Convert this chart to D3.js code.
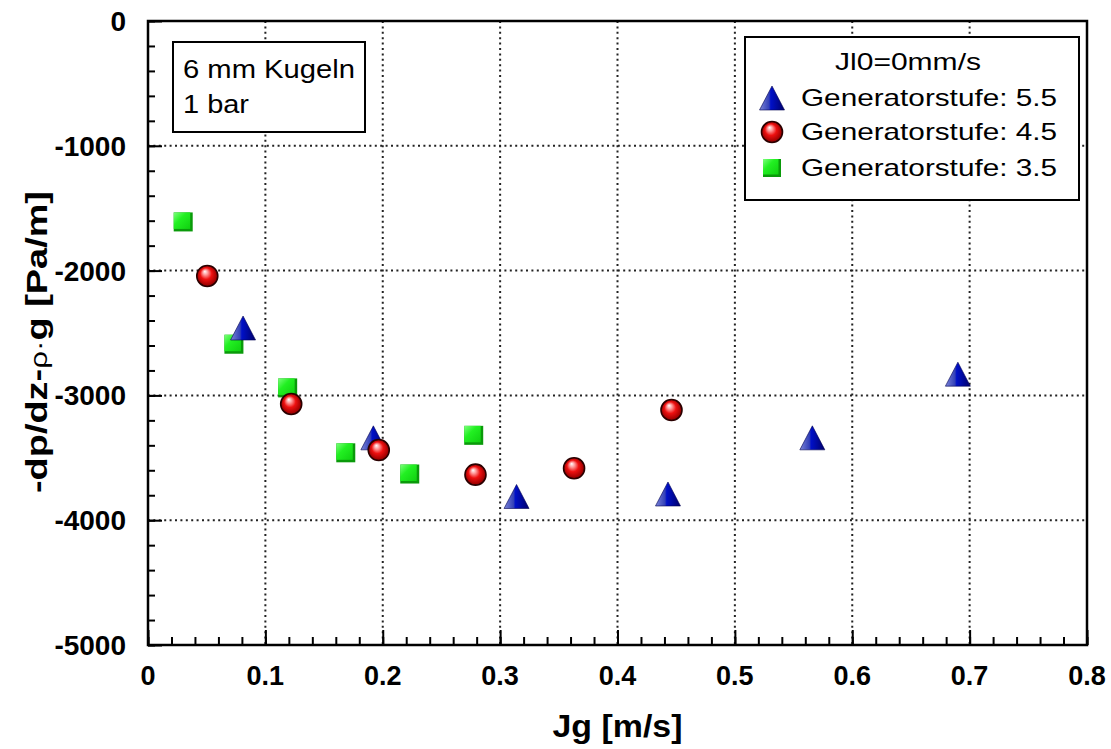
<!DOCTYPE html>
<html>
<head>
<meta charset="utf-8">
<script src="https://cdn.jsdelivr.net/npm/d3@7/dist/d3.min.js"></script>
<style>
  html, body { margin: 0; padding: 0; background: #fff; }
  svg { display: block; font-family: "Liberation Sans", Arial, Helvetica, sans-serif; }
</style>
</head>
<body>
<svg id="chart" width="1111" height="749"></svg>
<script>
// ---- data ----
const xTicks = [0, 0.1, 0.2, 0.3, 0.4, 0.5, 0.6, 0.7, 0.8];
const xTickLabels = ["0", "0.1", "0.2", "0.3", "0.4", "0.5", "0.6", "0.7", "0.8"];
const yTicks = [0, -1000, -2000, -3000, -4000, -5000];
const yTickLabels = ["0", "-1000", "-2000", "-3000", "-4000", "-5000"];

const seriesNames = ["Generatorstufe: 5.5", "Generatorstufe: 4.5", "Generatorstufe: 3.5"];
const legendTitle = "Jl0=0mm/s";
const noteLines = ["6 mm Kugeln", "1 bar"];

const gen55X = [0.081, 0.192, 0.314, 0.443, 0.566, 0.690];
const gen55Y = [-2460, -3340, -3810, -3790, -3340, -2830];

const gen45X = [0.0505, 0.122, 0.1966, 0.279, 0.363, 0.446];
const gen45Y = [-2043, -3069, -3438, -3635, -3584, -3117];

const gen35X = [0.030, 0.0732, 0.119, 0.1685, 0.223, 0.2775];
const gen35Y = [-1610, -2590, -2940, -3460, -3630, -3320];

// ---- layout ----
const svg = d3.select("#chart");
const L = 148, R = 1087, T = 21, B = 645;
const x = d3.scaleLinear().domain([0, 0.8]).range([L, R]);
const y = d3.scaleLinear().domain([-5000, 0]).range([B, T]);

// gradients
const defs = svg.append("defs");
const rg = defs.append("radialGradient").attr("id", "ball")
  .attr("cx", "50%").attr("cy", "50%").attr("r", "55%")
  .attr("fx", "38%").attr("fy", "28%");
rg.append("stop").attr("offset", "0%").attr("stop-color", "#ffffff");
rg.append("stop").attr("offset", "22%").attr("stop-color", "#ff9a9a");
rg.append("stop").attr("offset", "50%").attr("stop-color", "#ee1010");
rg.append("stop").attr("offset", "85%").attr("stop-color", "#a00000");
rg.append("stop").attr("offset", "100%").attr("stop-color", "#600000");

const tg = defs.append("linearGradient").attr("id", "tri")
  .attr("x1", "0%").attr("y1", "0%").attr("x2", "100%").attr("y2", "0%");
tg.append("stop").attr("offset", "0%").attr("stop-color", "#7c86d8");
tg.append("stop").attr("offset", "38%").attr("stop-color", "#3340b8");
tg.append("stop").attr("offset", "45%").attr("stop-color", "#0010c8");
tg.append("stop").attr("offset", "100%").attr("stop-color", "#00006a");

const sg = defs.append("linearGradient").attr("id", "sq")
  .attr("x1", "0%").attr("y1", "0%").attr("x2", "100%").attr("y2", "100%");
sg.append("stop").attr("offset", "0%").attr("stop-color", "#7dff7d");
sg.append("stop").attr("offset", "40%").attr("stop-color", "#22f022");
sg.append("stop").attr("offset", "100%").attr("stop-color", "#10d010");

// grid
const grid = svg.append("g").attr("stroke", "#222").attr("stroke-width", 2)
  .attr("stroke-dasharray", "2,3.4");
grid.selectAll("line.vx").data(xTicks.slice(1, -1)).enter().append("line")
  .attr("x1", d => x(d)).attr("x2", d => x(d)).attr("y1", T).attr("y2", B);
grid.selectAll("line.hy").data(yTicks.slice(1, -1)).enter().append("line")
  .attr("x1", L).attr("x2", R).attr("y1", d => y(d)).attr("y2", d => y(d));

// axes ticks (inward)
const xMinor = d3.range(0, 81, 2).map(v => v / 100);
const yMinor = d3.range(-5000, 1, 200);
svg.append("g").attr("transform", `translate(0,${B})`)
  .call(d3.axisBottom(x).tickValues(xMinor).tickSize(-8).tickFormat(""))
  .call(g => g.select(".domain").remove())
  .selectAll("line").attr("stroke", "#000").attr("stroke-width", 2);
svg.append("g").attr("transform", `translate(0,${B})`)
  .call(d3.axisBottom(x).tickValues(xTicks).tickSize(-15).tickFormat(""))
  .call(g => g.select(".domain").remove())
  .selectAll("line").attr("stroke", "#000").attr("stroke-width", 2);
svg.append("g").attr("transform", `translate(${L},0)`)
  .call(d3.axisLeft(y).tickValues(yMinor).tickSize(-7).tickFormat(""))
  .call(g => g.select(".domain").remove())
  .selectAll("line").attr("stroke", "#000").attr("stroke-width", 2);
svg.append("g").attr("transform", `translate(${L},0)`)
  .call(d3.axisLeft(y).tickValues(yTicks).tickSize(-14).tickFormat(""))
  .call(g => g.select(".domain").remove())
  .selectAll("line").attr("stroke", "#000").attr("stroke-width", 2);

// frame
svg.append("rect").attr("x", L).attr("y", T).attr("width", R - L).attr("height", B - T)
  .attr("fill", "none").attr("stroke", "#000").attr("stroke-width", 2.5);

// tick labels
svg.append("g").selectAll("text").data(xTicks).enter().append("text")
  .attr("x", d => x(d)).attr("y", 685).attr("text-anchor", "middle")
  .attr("font-size", 27).attr("font-weight", "bold")
  .text((d, i) => xTickLabels[i]);
svg.append("g").selectAll("text").data(yTicks).enter().append("text")
  .attr("x", 126).attr("y", d => y(d) + 10).attr("text-anchor", "end")
  .attr("font-size", 28).attr("font-weight", "bold")
  .text((d, i) => yTickLabels[i]);

// axis titles
svg.append("text").attr("x", (L + R) / 2).attr("y", 737).attr("text-anchor", "middle")
  .attr("font-size", 31).attr("font-weight", "bold")
  .attr("textLength", 130).attr("lengthAdjust", "spacingAndGlyphs")
  .text("Jg [m/s]");
const yt = svg.append("text").attr("transform", "translate(47,342) rotate(-90)")
  .attr("text-anchor", "middle").attr("font-size", 29).attr("font-weight", "bold")
  .attr("textLength", 302).attr("lengthAdjust", "spacingAndGlyphs");
yt.append("tspan").text("-dp/dz-");
yt.append("tspan").attr("font-weight", "normal").attr("font-size", 24).text("ρ·");
yt.append("tspan").text("g [Pa/m]");

// markers
function drawTri(g, cx, cy, s) {
  const h = s * 0.96;
  g.append("path")
    .attr("d", `M${cx},${cy - h / 2} L${cx + s / 2},${cy + h / 2} L${cx - s / 2},${cy + h / 2} Z`)
    .attr("fill", "url(#tri)").attr("stroke", "#000050").attr("stroke-width", 0.6);
}
function drawBall(g, cx, cy, r) {
  g.append("circle").attr("cx", cx).attr("cy", cy).attr("r", r)
    .attr("fill", "url(#ball)").attr("stroke", "#2a0000").attr("stroke-width", 1.6);
}
function drawSq(g, cx, cy, s) {
  g.append("rect").attr("x", cx - s / 2).attr("y", cy - s / 2).attr("width", s).attr("height", s)
    .attr("fill", "#0a9a0a");
  g.append("rect").attr("x", cx - s / 2).attr("y", cy - s / 2).attr("width", s - 2.5).attr("height", s - 2.5)
    .attr("fill", "url(#sq)");
}

const marks = svg.append("g");
gen35X.forEach((v, i) => drawSq(marks, x(v), y(gen35Y[i]), 19));
gen55X.forEach((v, i) => drawTri(marks, x(v), y(gen55Y[i]), 25));
gen45X.forEach((v, i) => drawBall(marks, x(v), y(gen45Y[i]), 10.5));

// annotation box
svg.append("rect").attr("x", 173).attr("y", 42).attr("width", 192).attr("height", 90)
  .attr("fill", "#fff").attr("stroke", "#000").attr("stroke-width", 2);
svg.append("text").attr("x", 183).attr("y", 78).attr("font-size", 25)
  .attr("textLength", 172).attr("lengthAdjust", "spacingAndGlyphs").text(noteLines[0]);
svg.append("text").attr("x", 183).attr("y", 113).attr("font-size", 25)
  .attr("textLength", 66).attr("lengthAdjust", "spacingAndGlyphs").text(noteLines[1]);

// legend
svg.append("rect").attr("x", 745).attr("y", 37).attr("width", 334).attr("height", 163)
  .attr("fill", "#fff").attr("stroke", "#000").attr("stroke-width", 2);
svg.append("text").attr("x", 908).attr("y", 70).attr("text-anchor", "middle")
  .attr("font-size", 24).attr("textLength", 146).attr("lengthAdjust", "spacingAndGlyphs")
  .text(legendTitle);
const legRows = [98, 132, 168];
const lg = svg.append("g");
drawTri(lg, 772, legRows[0], 25);
drawBall(lg, 772, legRows[1], 10.5);
drawSq(lg, 772, legRows[2], 18);
seriesNames.forEach((n, i) => {
  lg.append("text").attr("x", 801).attr("y", legRows[i] + 8).attr("font-size", 24)
    .attr("textLength", 256).attr("lengthAdjust", "spacingAndGlyphs").text(n);
});
</script>
</body>
</html>
